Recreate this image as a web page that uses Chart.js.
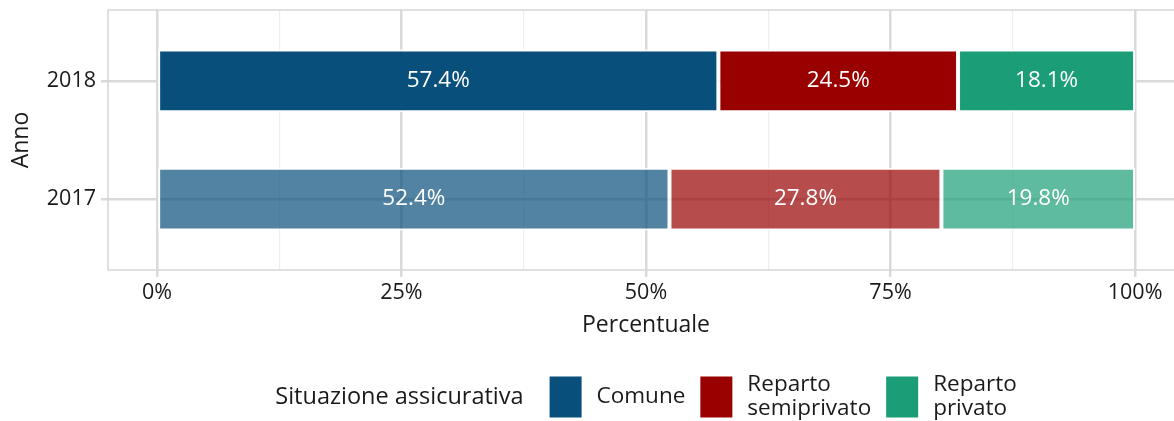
<!DOCTYPE html>
<html>
<head>
<meta charset="utf-8">
<script src="https://cdn.jsdelivr.net/npm/chart.js@4.4.1/dist/chart.umd.min.js"></script>
<style>
  html, body { margin: 0; padding: 0; background: #fff; }
  #frame { width: 1174px; height: 421px; overflow: hidden; position: relative; }
  #wrap { width: 1200px; height: 421px; position: absolute; left: 0; top: 0; }
</style>
</head>
<body>
<div id="frame"><div id="wrap"><canvas id="chart"></canvas></div></div>
<script>
// data, top row first
const years = ['2018', '2017'];
const comune = [57.4, 52.4];
const semiprivato = [24.5, 27.8];
const privato = [18.1, 19.8];
const seriesNames = [['Comune'], ['Reparto', 'semiprivato'], ['Reparto', 'privato']];
const seriesColors = ['#084f7b', '#990000', '#1b9e77'];
const yearAlpha = [1, 0.7];
const xTicks = [0, 12.5, 25, 37.5, 50, 62.5, 75, 87.5, 100];

const FONT = "'Open Sans', 'Noto Sans', sans-serif";
const TEXT = '#1a1a1a';
const GRID_MAJOR = '#dadada';
const GRID_MINOR = '#eeeeee';

function rgba(hex, a) {
  const n = parseInt(hex.slice(1), 16);
  return 'rgba(' + (n >> 16) + ',' + ((n >> 8) & 255) + ',' + (n & 255) + ',' + a + ')';
}

// rows go top to bottom, so the first year sits highest on the axis
function toPoints(values) {
  return values.map((v, i) => ({ x: v, y: years.length - i }));
}

function makeDataset(values, idx) {
  return {
    label: seriesNames[idx].join(' '),
    data: toPoints(values),
    backgroundColor: years.map((y, i) => rgba(seriesColors[idx], yearAlpha[i])),
    borderColor: '#ffffff',
    borderWidth: 2,
    borderSkipped: false,
    categoryPercentage: 1,
    barPercentage: 0.53,
  };
}

const isMajor = (v) => v % 25 === 0;

const panelBorder = {
  id: 'panelBorder',
  beforeDatasetsDraw(chart) {
    const { ctx, chartArea: a } = chart;
    ctx.save();
    ctx.strokeStyle = '#d6d6d6';
    ctx.lineWidth = 1.5;
    ctx.strokeRect(a.left, a.top, a.right - a.left, a.bottom - a.top);
    ctx.restore();
  },
};

const barLabels = {
  id: 'barLabels',
  afterDatasetsDraw(chart) {
    const ctx = chart.ctx;
    ctx.save();
    ctx.font = '22.5px ' + FONT;
    ctx.fillStyle = '#ffffff';
    ctx.textAlign = 'center';
    ctx.textBaseline = 'middle';
    chart.data.datasets.forEach((ds, di) => {
      chart.getDatasetMeta(di).data.forEach((bar, i) => {
        const v = ds.data[i].x;
        ctx.fillText(v.toFixed(1) + '%', (bar.x + bar.base) / 2, bar.y);
      });
    });
    ctx.restore();
  },
};

// legend at the bottom, centred under the panel
const bottomLegend = {
  id: 'bottomLegend',
  afterDraw(chart) {
    const { ctx, chartArea: a } = chart;
    const title = 'Situazione assicurativa';
    const cy = 397;
    const boxW = 32, boxH = 41;
    const lineH = 24;
    const titleFont = '23.5px ' + FONT;
    const labelFont = '22.5px ' + FONT;
    ctx.save();
    ctx.textBaseline = 'middle';
    ctx.textAlign = 'left';
    ctx.font = titleFont;
    const titleW = ctx.measureText(title).width;
    ctx.font = labelFont;
    const labelW = seriesNames.map((lines) => Math.max(...lines.map((t) => ctx.measureText(t).width)));
    let total = titleW + 26;
    labelW.forEach((w, i) => { total += boxW + 15 + w + (i < labelW.length - 1 ? 15 : 0); });
    let x = (a.left + a.right) / 2 - total / 2;

    ctx.fillStyle = TEXT;
    ctx.font = titleFont;
    ctx.fillText(title, x, cy);
    x += titleW + 26;

    ctx.font = labelFont;
    seriesNames.forEach((lines, i) => {
      ctx.fillStyle = seriesColors[i];
      ctx.fillRect(x, cy - boxH / 2, boxW, boxH);
      x += boxW + 15;
      ctx.fillStyle = TEXT;
      const y0 = cy - (lines.length - 1) * lineH / 2;
      lines.forEach((t, j) => ctx.fillText(t, x, y0 + j * lineH));
      x += labelW[i] + 15;
    });
    ctx.restore();
  },
};

new Chart(document.getElementById('chart'), {
  type: 'bar',
  data: {
    datasets: [
      makeDataset(comune, 0),
      makeDataset(semiprivato, 1),
      makeDataset(privato, 2),
    ],
  },
  options: {
    indexAxis: 'y',
    responsive: true,
    maintainAspectRatio: false,
    animation: false,
    layout: { padding: { top: 10, right: 16, bottom: 81, left: 0 } },
    plugins: {
      legend: { display: false },
      tooltip: { enabled: false },
    },
    scales: {
      x: {
        type: 'linear',
        min: -5,
        max: 105,
        stacked: true,
        afterBuildTicks: (s) => { s.ticks = xTicks.map((v) => ({ value: v })); },
        afterFit: (s) => {
          s.height = 70;
          s.paddingLeft = 0;
          s.paddingRight = 0;
        },
        ticks: {
          autoSkip: false,
          maxRotation: 0,
          padding: 3,
          color: TEXT,
          font: { family: FONT, size: 21.5 },
          callback: (v) => (isMajor(v) ? v + '%' : ''),
        },
        grid: {
          color: (c) => (isMajor(c.tick.value) ? GRID_MAJOR : GRID_MINOR),
          lineWidth: (c) => (isMajor(c.tick.value) ? 2.5 : 1.2),
          tickColor: (c) => (isMajor(c.tick.value) ? GRID_MAJOR : 'rgba(0,0,0,0)'),
          tickWidth: 2.5,
          tickLength: 7,
        },
        border: { display: false },
        title: {
          display: true,
          text: 'Percentuale',
          color: TEXT,
          font: { family: FONT, size: 23 },
          padding: { top: 0, bottom: 1 },
        },
      },
      y: {
        type: 'linear',
        min: 0.4,
        max: 2.6,
        offset: false,
        stacked: true,
        afterBuildTicks: (s) => { s.ticks = years.map((y, i) => ({ value: years.length - i })); },
        afterFit: (s) => {
          s.width = 108;
          s.paddingTop = 0;
          s.paddingBottom = 0;
        },
        ticks: {
          padding: 5,
          color: TEXT,
          font: { family: FONT, size: 21.5 },
          callback: (v) => years[years.length - v],
        },
        grid: {
          offset: false,
          color: GRID_MAJOR,
          lineWidth: 2.5,
          tickLength: 7,
        },
        border: { display: false },
        title: {
          display: true,
          text: 'Anno',
          color: TEXT,
          font: { family: FONT, size: 23 },
          padding: { top: 8, bottom: 0 },
        },
      },
    },
  },
  plugins: [panelBorder, barLabels, bottomLegend],
});
</script>
</body>
</html>
